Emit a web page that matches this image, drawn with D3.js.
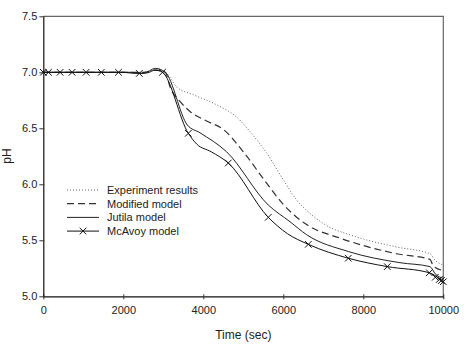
<!DOCTYPE html>
<html>
<head>
<meta charset="utf-8">
<script src="https://cdn.jsdelivr.net/npm/d3@7"></script>
<style>
  body { margin: 0; background: #fff; }
  svg text { font-family: "Liberation Sans", Arial, sans-serif; fill: #222; }
</style>
</head>
<body>
<div id="chart"></div>
<script>
const width = 471;
const height = 344;
const margin = { top: 16.3, right: 27.7, bottom: 47.7, left: 43.3 };

// Data (time in sec, pH)
const xTicks = [0, 2000, 4000, 6000, 8000, 10000];
const yTicks = [5.0, 5.5, 6.0, 6.5, 7.0, 7.5];

const expTime = [0, 2500, 2800, 3050, 3333, 3750, 4333, 4833, 5167, 5583, 6000, 6333, 6667, 7000, 7833, 8833, 9667, 9800, 10000];
const expPH   = [7.0, 7.0, 7.02, 7.0, 6.87, 6.80, 6.71, 6.60, 6.47, 6.28, 6.04, 5.86, 5.74, 5.65, 5.53, 5.44, 5.38, 5.32, 5.28];

const modTime = [0, 2500, 2800, 3050, 3167, 3417, 3667, 4083, 4500, 5000, 5583, 6000, 6583, 7417, 8833, 9667, 9750, 10000];
const modPH   = [7.0, 7.0, 7.02, 7.0, 6.87, 6.74, 6.65, 6.565, 6.49, 6.29, 6.01, 5.82, 5.64, 5.52, 5.38, 5.33, 5.27, 5.23];

const jutTime = [0, 2200, 2500, 2800, 3050, 3600, 3917, 4583, 5625, 6167, 6583, 7625, 8917, 9667, 9800, 10000];
const jutPH   = [7.0, 7.0, 6.99, 7.035, 7.0, 6.53, 6.46, 6.29, 5.815, 5.666, 5.55, 5.40, 5.30, 5.265, 5.20, 5.16];

const mcaTime = [0, 2000, 2300, 2600, 2800, 2980, 3625, 3833, 4200, 4625, 5625, 6100, 6625, 7625, 8600, 9650, 10000];
const mcaPH   = [7.0, 7.0, 6.99, 6.995, 7.02, 7.0, 6.455, 6.36, 6.29, 6.19, 5.705, 5.56, 5.464, 5.34, 5.265, 5.21, 5.13];

const mcaMarkTime = [0, 130, 420, 720, 1070, 1450, 1880, 2400, 2980, 3625, 4625, 5625, 6625, 7625, 8600, 9650, 9800, 9900, 9950, 10000];
const mcaMarkPH   = [7.0, 7.0, 7.0, 7.0, 7.0, 7.0, 7.0, 6.99, 7.0, 6.455, 6.19, 5.705, 5.464, 5.34, 5.265, 5.21, 5.17, 5.15, 5.14, 5.13];

const seriesNames = ["Experiment results", "Modified model", "Jutila model", "McAvoy model"];

const zip = (t, p) => t.map((d, i) => ({ t: d, ph: p[i] }));
const series = [
    { name: seriesNames[0], values: zip(expTime, expPH), color: "#666", width: 1, dash: "1,2" },
    { name: seriesNames[1], values: zip(modTime, modPH), color: "#333", width: 1.2, dash: "7,4" },
    { name: seriesNames[2], values: zip(jutTime, jutPH), color: "#222", width: 1, dash: null },
    { name: seriesNames[3], values: zip(mcaTime, mcaPH), color: "#111", width: 1, dash: null }
];
const markers = zip(mcaMarkTime, mcaMarkPH);

const svg = d3.select("#chart")
    .append("svg")
    .attr("width", width)
    .attr("height", height);

const xScale = d3.scaleLinear()
    .domain([0, 10000])
    .range([margin.left, width - margin.right]);

const yScale = d3.scaleLinear()
    .domain([5.0, 7.5])
    .range([height - margin.bottom, margin.top]);

// Frame (top and right borders)
svg.append("path")
    .attr("d", `M${xScale(0)},${yScale(7.5)}H${xScale(10000)}V${yScale(5.0) + 2}`)
    .attr("fill", "none")
    .attr("stroke", "#666")
    .attr("stroke-width", 1.2);

// Axes
const xAxis = svg.append("g")
    .attr("transform", `translate(0,${yScale(5.0)})`)
    .call(d3.axisBottom(xScale).tickValues(xTicks).tickFormat(d3.format("d")).tickSize(3).tickSizeOuter(0));
xAxis.selectAll(".tick line").attr("y1", -2);
xAxis.selectAll(".tick text").attr("y", 10).style("font-size", "11px");

const yAxis = svg.append("g")
    .attr("transform", `translate(${xScale(0)},0)`)
    .call(d3.axisLeft(yScale).tickValues(yTicks).tickFormat(d3.format(".1f")).tickSize(4).tickSizeOuter(0));
yAxis.selectAll(".tick line").attr("x2", -4).attr("x1", 1);
yAxis.selectAll(".tick text").attr("x", -6).style("font-size", "11px");

svg.selectAll(".domain").attr("stroke", "#111").attr("stroke-width", 1.2);
svg.selectAll(".tick line").attr("stroke", "#333");

// Axis labels
svg.append("text")
    .attr("x", xScale(5000))
    .attr("y", 339)
    .attr("text-anchor", "middle")
    .style("font-size", "12px")
    .text("Time (sec)");

svg.append("text")
    .attr("transform", "rotate(-90)")
    .attr("x", -156)
    .attr("y", 11)
    .attr("text-anchor", "middle")
    .style("font-size", "12px")
    .text("pH");

// Lines
const line = d3.line()
    .x(d => xScale(d.t))
    .y(d => yScale(d.ph))
    .curve(d3.curveMonotoneX);

svg.selectAll(".series")
    .data(series)
    .enter()
    .append("path")
    .attr("class", "series")
    .attr("d", d => line(d.values))
    .attr("fill", "none")
    .attr("stroke", d => d.color)
    .attr("stroke-width", d => d.width)
    .attr("stroke-dasharray", d => d.dash);

// McAvoy x markers
const cross = (x, y, r) => `M${x - r},${y - r}L${x + r},${y + r}M${x - r},${y + r}L${x + r},${y - r}`;
svg.append("g")
    .selectAll("path")
    .data(markers)
    .enter()
    .append("path")
    .attr("d", d => cross(xScale(d.t), yScale(d.ph), 3.3))
    .attr("stroke", "#111")
    .attr("stroke-width", 1);

// Legend
const legend = svg.append("g");
const legendRows = legend.selectAll("g")
    .data(series)
    .enter()
    .append("g")
    .attr("transform", (d, i) => `translate(67,${190 + i * 13.7})`);

legendRows.append("line")
    .attr("x1", 0)
    .attr("x2", 32)
    .attr("stroke", d => d.color)
    .attr("stroke-width", d => d.width)
    .attr("stroke-dasharray", d => d.dash);

legendRows.filter((d, i) => i === 3)
    .append("path")
    .attr("d", cross(16, 0, 3.3))
    .attr("stroke", "#111");

legendRows.append("text")
    .attr("x", 40)
    .attr("y", 4)
    .style("font-size", "11px")
    .text(d => d.name);
</script>
</body>
</html>
